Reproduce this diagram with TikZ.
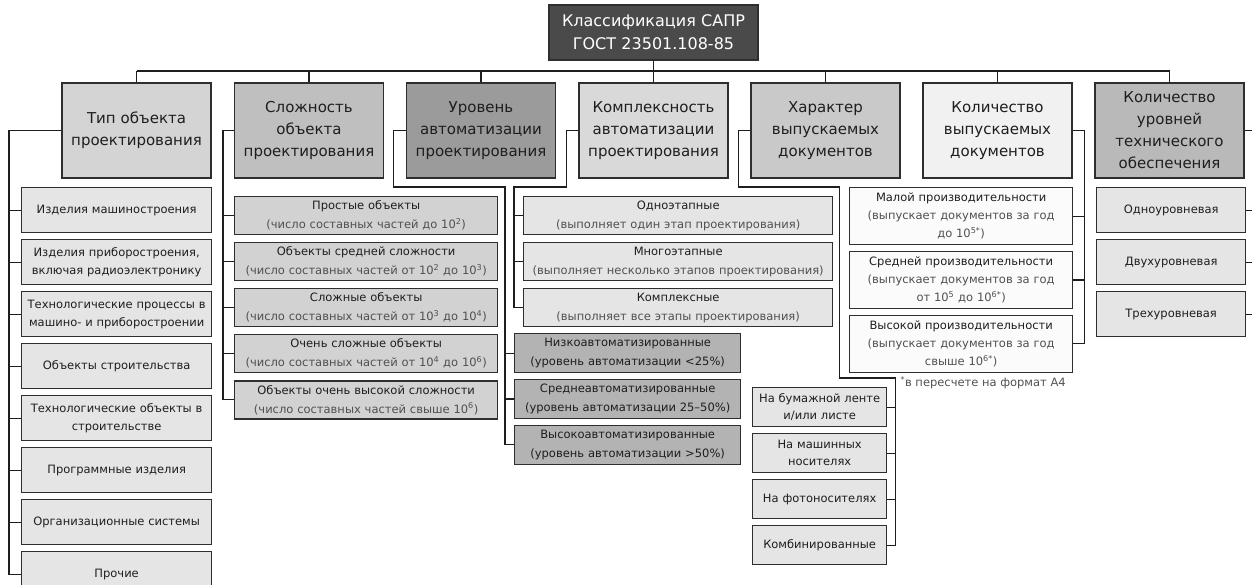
\documentclass[tikz,border=0pt]{standalone}
\usepackage{fontspec}
\setmainfont{DejaVu Sans}
\usepackage{xcolor}
\usepackage{tikz}
\usetikzlibrary{positioning,calc}
\definecolor{Ink}{HTML}{1E1E1E}
\definecolor{Rim}{HTML}{2E2E2E}
\definecolor{SubInk}{HTML}{505050}
\definecolor{Root}{HTML}{4A4A4A}
\definecolor{TypeFill}{HTML}{D4D4D4}
\definecolor{HardFill}{HTML}{BFBFBF}
\definecolor{AutoFill}{HTML}{9B9B9B}
\definecolor{CompFill}{HTML}{D9D9D9}
\definecolor{DocFill}{HTML}{C9C9C9}
\definecolor{CountFill}{HTML}{F1F1F1}
\definecolor{LevelFill}{HTML}{B9B9B9}
\definecolor{Light}{HTML}{E5E5E5}
\definecolor{Mid}{HTML}{D2D2D2}
\definecolor{Deep}{HTML}{B3B3B3}
\definecolor{Paper}{HTML}{FBFBFB}
\newcommand{\lo}{\color{SubInk}}
\tikzset{
  cat/.style={
    draw=Rim, line width=1.4pt, align=center, text width=149pt,
    minimum height=95pt, inner sep=0pt, text=Ink,
    font=\fontsize{15}{22}\selectfont
  },
  item/.style={
    draw=Rim, line width=1.3pt, align=center, inner sep=0pt,
    text=Ink, font=\fontsize{11.5}{18}\selectfont
  },
  itemSmall/.style={item,font=\fontsize{11.5}{19}\selectfont},
  link/.style={line width=1.2pt,draw=Ink},
  note/.style={font=\fontsize{11.5}{14}\selectfont,text=SubInk,anchor=west}
}

\begin{document}
\begin{tikzpicture}[x=1pt,y=-1pt]
  \useasboundingbox (0,0) rectangle (1252,584);
  \node[cat,fill=Root,text=white,text width=209pt,minimum height=55pt,font=\fontsize{16}{23}\selectfont] (root) at (653.5,32.5) {Классификация САПР\\ГОСТ 23501.108-85};
  % categories
  \node[cat,fill=TypeFill] (t1) at (136.5,130.5) {Тип объекта\\проектирования};
  \node[cat,fill=HardFill] (t2) at (309,130.5) {Сложность\\объекта\\проектирования};
  \node[cat,fill=AutoFill] (t3) at (481,130.5) {Уровень\\автоматизации\\проектирования};
  \node[cat,fill=CompFill] (t4) at (653.5,130.5) {Комплексность\\автоматизации\\проектирования};
  \node[cat,fill=DocFill] (t5) at (825.5,130.5) {Характер\\выпускаемых\\документов};
  \node[cat,fill=CountFill] (t6) at (997.5,130.5) {Количество\\выпускаемых\\документов};
  \node[cat,fill=LevelFill] (t7) at (1169.5,130.5) {Количество\\уровней\\технического\\обеспечения};
  \coordinate (bus) at (0,71);
  \draw[link] (root.south) -- (root.south |- bus);
  \draw[link] (t1.north |- bus) -- (t7.north |- bus);
  \foreach \t in {t1,t2,t3,t4,t5,t6,t7}
    \draw[link] (\t.north) -- (\t.north |- bus);

  % object type
  \begin{scope}[every node/.style={item,fill=Light,text width=190pt,minimum height=45pt}]
    \node[anchor=north west] (a1) at (21,187) {Изделия машиностроения};
    \node[below=5.7pt of a1] (a2) {Изделия приборостроения,\\включая радиоэлектронику};
    \node[below=5.7pt of a2] (a3) {Технологические процессы в\\машино- и приборостроении};
    \node[below=5.7pt of a3] (a4) {Объекты строительства};
    \node[below=5.7pt of a4] (a5) {Технологические объекты в\\строительстве};
    \node[below=5.7pt of a5] (a6) {Программные изделия};
    \node[below=5.7pt of a6] (a7) {Организационные системы};
    \node[below=5.7pt of a7] (a8) {Прочие};
  \end{scope}
  \draw[link] (t1.west) -| ($(a8.west)+(-12,0)$) -- (a8.west);
  \foreach \n in {a1,a2,a3,a4,a5,a6,a7}
    \draw[link] (\n.west) -- ++(-12,0);

  % complexity
  \begin{scope}[every node/.style={itemSmall,fill=Mid,text width=263pt,minimum height=38pt}]
    \node[anchor=north west] (b1) at (234,196) {Простые объекты\\\lo(число составных частей до 10\textsuperscript{2})};
    \node[below=6.75pt of b1] (b2) {Объекты средней сложности\\\lo(число составных частей от 10\textsuperscript{2} до 10\textsuperscript{3})};
    \node[below=6.75pt of b2] (b3) {Сложные объекты\\\lo(число составных частей от 10\textsuperscript{3} до 10\textsuperscript{4})};
    \node[below=6.75pt of b3] (b4) {Очень сложные объекты\\\lo(число составных частей от 10\textsuperscript{4} до 10\textsuperscript{6})};
    \node[below=6.75pt of b4] (b5) {Объекты очень высокой сложности\\\lo(число составных частей свыше 10\textsuperscript{6})};
  \end{scope}
  \draw[link] (t2.west) -| ($(b5.west)+(-11,0)$) -- (b5.west);
  \foreach \n in {b1,b2,b3,b4}
    \draw[link] (\n.west) -- ++(-11,0);

  % automation level
  \begin{scope}[every node/.style={itemSmall,fill=Deep,text width=226pt,minimum height=39pt}]
    \node[anchor=north west] (c1) at (514,333) {Низкоавтоматизированные\\(уровень автоматизации <25\%)};
    \node[below=5.5pt of c1] (c2) {Среднеавтоматизированные\\(уровень автоматизации 25--50\%)};
    \node[below=5.5pt of c2] (c3) {Высокоавтоматизированные\\(уровень автоматизации >50\%)};
  \end{scope}
  \draw[link] (t3.west) -| ($(t3.west)+(-12,56.5)$) -| ($(c3.west)+(-9,0)$) -- (c3.west);
  \foreach \n in {c1,c2}
    \draw[link] (\n.west) -- ++(-9,0);

  % automation scope
  \begin{scope}[every node/.style={itemSmall,fill=Light,text width=309pt,minimum height=38pt}]
    \node[anchor=north west] (d1) at (523,196) {Одноэтапные\\\lo(выполняет один этап проектирования)};
    \node[below=6.75pt of d1] (d2) {Многоэтапные\\\lo(выполняет несколько этапов проектирования)};
    \node[below=6.75pt of d2] (d3) {Комплексные\\\lo(выполняет все этапы проектирования)};
  \end{scope}
  \draw[link] (t4.west) -| ($(t4.west)+(-12,56.5)$) -| ($(d3.west)+(-9,0)$) -- (d3.west);
  \foreach \n in {d1,d2}
    \draw[link] (\n.west) -- ++(-9,0);

  % document media
  \begin{scope}[every node/.style={item,fill=Light,text width=134pt,minimum height=39pt,font=\fontsize{11.5}{17}\selectfont}]
    \node[anchor=north west] (e1) at (752,387) {На бумажной ленте\\и/или листе};
    \node[below=5.7pt of e1] (e2) {На машинных\\носителях};
    \node[below=5.7pt of e2] (e3) {На фотоносителях};
    \node[below=5.7pt of e3] (e4) {Комбинированные};
  \end{scope}
  \draw[link] (t5.west) -| ($(t5.west)+(-12,56.5)$) -| ($(t5.west)+(89,247.5)$) -| ($(e4.east)+(8,0)$) -- (e4.east);
  \foreach \n in {e1,e2,e3}
    \draw[link] (\n.east) -- ++(8,0);

  % document count
  \begin{scope}[every node/.style={itemSmall,fill=Paper,text width=223pt,minimum height=57pt,font=\fontsize{11.5}{18}\selectfont}]
    \node[anchor=north west] (f1) at (849,187) {Малой производительности\\\lo(выпускает документов за год\\до 10\textsuperscript{5*})};
    \node[below=5.5pt of f1] (f2) {Средней производительности\\\lo(выпускает документов за год\\от 10\textsuperscript{5} до 10\textsuperscript{6*})};
    \node[below=5.5pt of f2] (f3) {Высокой производительности\\\lo(выпускает документов за год\\свыше 10\textsuperscript{6*})};
  \end{scope}
  \draw[link] (t6.east) -| ($(f3.east)+(11,0)$) -- (f3.east);
  \foreach \n in {f1,f2}
    \draw[link] (\n.east) -- ++(11,0);
  \node[note] (foot) at (897,383) {\textsuperscript{*}в пересчете на формат А4};

  % support levels
  \begin{scope}[every node/.style={item,fill=Light,text width=149pt,minimum height=45pt}]
    \node[anchor=north west] (g1) at (1096,187) {Одноуровневая};
    \node[below=5.7pt of g1] (g2) {Двухуровневая};
    \node[below=5.7pt of g2] (g3) {Трехуровневая};
  \end{scope}
  \draw[link] (t7.east) -| ($(g3.east)+(6,0)$) -- (g3.east);
  \foreach \n in {g1,g2}
    \draw[link] (\n.east) -- ++(6,0);
\end{tikzpicture}
\end{document}
